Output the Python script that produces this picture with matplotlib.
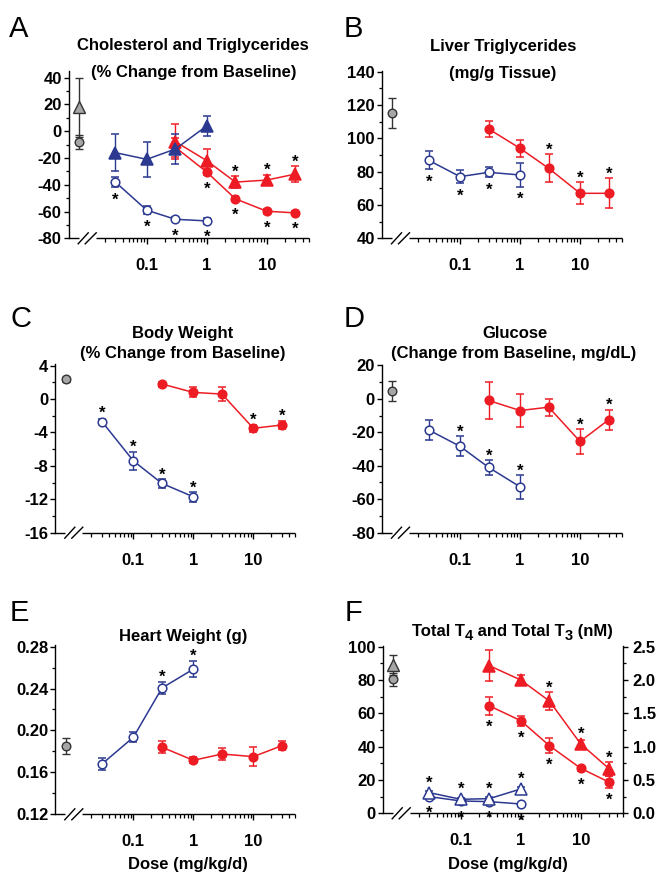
import matplotlib
matplotlib.use('Agg')
import matplotlib.pyplot as plt
from matplotlib.ticker import FixedLocator, NullFormatter, MultipleLocator, FormatStrFormatter

plt.rcParams['font.family'] = ['Liberation Sans', 'DejaVu Sans']
plt.rcParams['axes.unicode_minus'] = False

BLUE = '#2B3990'
RED = '#ED1C24'
GRAY = '#A6A6A6'
DARK = '#333333'

# ---------------- data ----------------
ctrl_dose = 0.0074
dose_blue = [0.03, 0.1, 0.3, 1]
dose_red = [0.3, 1, 3, 10, 30]
x_major = [0.1, 1, 10]
x_major_labels = ['0.1', '1', '10']

# A: cholesterol (circles) and triglycerides (triangles), % change
A_ctrl_chol, A_ctrl_chol_err = -8, 5
A_ctrl_tg, A_ctrl_tg_err = 18, 22
A_blue_chol = [-38, -59, -65.8, -67]
A_blue_chol_err = [4, 3, 1.5, 2]
A_blue_tg = [-16, -21, -13.3, 4]
A_blue_tg_err = [14, 13, 11, 7.5]
A_red_chol = [-12, -30.5, -50.5, -59.8, -61]
A_red_chol_err = [7, 2, 2, 2, 1.5]
A_red_tg = [-7.8, -22, -38, -36.5, -32]
A_red_tg_err = [13, 9, 4.5, 4, 6]
A_blue_chol_stars = [0.03, 0.1, 0.3, 1]
A_red_chol_stars = [1, 3, 10, 30]
A_red_tg_stars = [3, 10, 30]

# B: liver triglycerides (mg/g)
B_ctrl, B_ctrl_err = 115, 9
B_blue = [86.8, 77, 79.6, 78]
B_blue_err = [5.5, 4, 3, 7]
B_red = [105.6, 94, 82, 67, 67]
B_red_err = [5, 5, 8.5, 6.5, 9]
B_blue_stars = [0.03, 0.1, 0.3, 1]
B_red_stars = [3, 10, 30]

# C: body weight % change
C_ctrl, C_ctrl_err = 2.4, 0.3
C_blue = [-2.7, -7.4, -10.1, -11.7]
C_blue_err = [0.3, 1.1, 0.5, 0.6]
C_red = [1.8, 0.8, 0.6, -3.5, -3.1]
C_red_err = [0.3, 0.6, 0.8, 0.4, 0.5]
C_blue_stars = [0.03, 0.1, 0.3, 1]
C_red_stars = [10, 30]

# D: glucose change (mg/dL)
D_ctrl, D_ctrl_err = 4.5, 6
D_blue = [-18.6, -28.4, -41, -52.6]
D_blue_err = [6, 6, 4.5, 7]
D_red = [-1, -7, -5, -25.5, -12.5]
D_red_err = [11, 10, 5, 7.5, 6]
D_blue_stars = [0.1, 0.3, 1]
D_red_stars = [10, 30]

# E: heart weight (g)
E_ctrl, E_ctrl_err = 0.185, 0.0075
E_blue = [0.168, 0.1935, 0.2405, 0.2585]
E_blue_err = [0.006, 0.005, 0.006, 0.008]
E_red = [0.184, 0.1715, 0.1775, 0.175, 0.1855]
E_red_err = [0.006, 0.003, 0.006, 0.009, 0.004]
E_blue_stars = [0.3, 1]

# F: total T4 (circles, left axis) and total T3 (triangles, right axis), nM
F_ctrl_t4, F_ctrl_t4_err = 80.5, 4
F_ctrl_t3, F_ctrl_t3_err = 2.22, 0.15
F_blue_t4 = [10, 7.4, 7, 5.6]
F_blue_t4_err = [1, 0.8, 0.8, 0.6]
F_blue_t3 = [0.31, 0.21, 0.22, 0.365]
F_blue_t3_err = [0.03, 0.02, 0.02, 0.03]
F_red_t4 = [64.5, 55.6, 40.6, 27, 18.6]
F_red_t4_err = [5.5, 3, 4.5, 1.5, 3.5]
F_red_t3 = [2.215, 2.0, 1.685, 1.04, 0.665]
F_red_t3_err = [0.23, 0.075, 0.135, 0.0625, 0.1]
F_blue_t4_stars = [0.03, 0.1, 0.3, 1]
F_blue_t3_stars = [0.03, 0.1, 0.3, 1]
F_red_t4_stars = [0.3, 1, 3, 10, 30]
F_red_t3_stars = [3, 10, 30]

# ---------------- layout ----------------
W, H = 660, 873
fig = plt.figure(figsize=(W / 100, H / 100), dpi=100)
PT = 72 / 100  # points per pixel


def make_ax(left, right, top, bottom):
    return fig.add_axes([left / W, 1 - bottom / H, (right - left) / W, (bottom - top) / H])


TICK_FS = 12
TITLE_FS = 12
MS_C = 6.2
MS_T = 8.0


def style(ax, ylim, major, minor, fmt=None):
    ax.set_xscale('log')
    ax.set_xlim(0.005, 50)
    ax.set_ylim(*ylim)
    for s in ['top', 'right', 'bottom']:
        ax.spines[s].set_visible(False)
    ax.spines['left'].set_linewidth(1.0)
    ax.xaxis.set_major_locator(FixedLocator(x_major))
    ax.set_xticklabels(x_major_labels)
    mins = [m * d for d in (0.01, 0.1, 1) for m in range(2, 10)] + [20, 30, 40, 50]
    mins = [v for v in mins if v >= 0.02]
    ax.xaxis.set_minor_locator(FixedLocator(mins))
    ax.xaxis.set_minor_formatter(NullFormatter())
    ax.tick_params(axis='x', which='major', length=6 * PT, width=1.0, pad=14 * PT, labelsize=TICK_FS)
    ax.tick_params(axis='x', which='minor', length=3.5 * PT, width=0.9)
    ax.yaxis.set_major_locator(MultipleLocator(major))
    ax.yaxis.set_minor_locator(MultipleLocator(minor))
    if fmt:
        ax.yaxis.set_major_formatter(FormatStrFormatter(fmt))
    ax.tick_params(axis='y', which='major', length=5 * PT, width=1.0, pad=2 * PT, labelsize=TICK_FS)
    ax.tick_params(axis='y', which='minor', length=3 * PT, width=0.9)
    for lab in ax.get_xticklabels() + ax.get_yticklabels():
        lab.set_fontweight('bold')
    # broken bottom axis
    hpx = ax.get_position().height * H
    wpx = ax.get_position().width * W
    kw = dict(transform=ax.transAxes, color='black', lw=1.0, clip_on=False, solid_capstyle='butt')
    ax.plot([0, 10 / wpx], [0, 0], **kw)
    ax.plot([27 / wpx, 1], [0, 0], **kw)
    dy = 6 / hpx
    ax.plot([9 / wpx, 20 / wpx], [-dy, dy], **kw)
    ax.plot([16 / wpx, 28 / wpx], [-dy, dy], **kw)


def series(ax, x, y, err, color, marker, filled):
    ms = MS_C if marker == 'o' else MS_T
    ax.errorbar(x, y, yerr=err, fmt='-' + marker, color=color, lw=1.1,
                ms=ms, mfc=color if filled else 'white', mec=color, mew=1.1,
                ecolor=color, elinewidth=1.0, capsize=2.6, capthick=1.0, zorder=3)


def control(ax, y, err, marker):
    ms = MS_C if marker == 'o' else MS_T
    ax.errorbar([ctrl_dose], [y], yerr=[err], fmt=marker, color=DARK, ms=ms,
                mfc=GRAY, mec=DARK, mew=1.0, ecolor=DARK, elinewidth=1.0,
                capsize=2.6, capthick=1.0, zorder=3)


def stars(ax, x, y, err, which, direction, marker):
    r = (MS_C if marker == 'o' else MS_T) * 100 / 72 / 2
    inv = ax.transData.inverted()
    for xi, yi, ei in zip(x, y, err):
        if xi not in which:
            continue
        px, py = ax.transData.transform((xi, yi))
        _, pe = ax.transData.transform((xi, yi + ei))
        e = abs(pe - py)
        if direction > 0:
            c = py + max(e, r) + 7.5
        else:
            c = py - max(e, r) - 9
        base = c - 8.0
        _, yb = inv.transform((px, base))
        ax.text(xi, yb, '*', ha='center', va='baseline', fontsize=12,
                fontweight='bold', color='black', zorder=4)


def ftext(x, y, s, **kw):
    return fig.text(x / W, 1 - y / H, s, **kw)


# ---------------- panel A ----------------
axA = make_ax(68.7, 308.7, 71, 238.3)
style(axA, (-80, 45), 20, 10)
control(axA, A_ctrl_tg, A_ctrl_tg_err, '^')
control(axA, A_ctrl_chol, A_ctrl_chol_err, 'o')
series(axA, dose_red, A_red_chol, A_red_chol_err, RED, 'o', True)
series(axA, dose_red, A_red_tg, A_red_tg_err, RED, '^', True)
series(axA, dose_blue, A_blue_chol, A_blue_chol_err, BLUE, 'o', False)
series(axA, dose_blue, A_blue_tg, A_blue_tg_err, BLUE, '^', True)
stars(axA, dose_blue, A_blue_chol, A_blue_chol_err, A_blue_chol_stars, -1, 'o')
stars(axA, dose_red, A_red_chol, A_red_chol_err, A_red_chol_stars, -1, 'o')
stars(axA, dose_red, A_red_tg, A_red_tg_err, A_red_tg_stars, 1, '^')

# ---------------- panel B ----------------
axB = make_ax(382, 622, 71, 238.3)
style(axB, (40, 140.4), 20, 10)
control(axB, B_ctrl, B_ctrl_err, 'o')
series(axB, dose_red, B_red, B_red_err, RED, 'o', True)
series(axB, dose_blue, B_blue, B_blue_err, BLUE, 'o', False)
stars(axB, dose_blue, B_blue, B_blue_err, B_blue_stars, -1, 'o')
stars(axB, dose_red, B_red, B_red_err, B_red_stars, 1, 'o')

# ---------------- panel C ----------------
axC = make_ax(55.3, 295.3, 364, 532.7)
style(axC, (-16, 4.2), 4, 2)
control(axC, C_ctrl, C_ctrl_err, 'o')
series(axC, dose_red, C_red, C_red_err, RED, 'o', True)
series(axC, dose_blue, C_blue, C_blue_err, BLUE, 'o', False)
stars(axC, dose_blue, C_blue, C_blue_err, C_blue_stars, 1, 'o')
stars(axC, dose_red, C_red, C_red_err, C_red_stars, 1, 'o')

# ---------------- panel D ----------------
axD = make_ax(382, 622, 365, 532.7)
style(axD, (-80, 20.2), 20, 10)
control(axD, D_ctrl, D_ctrl_err, 'o')
series(axD, dose_red, D_red, D_red_err, RED, 'o', True)
series(axD, dose_blue, D_blue, D_blue_err, BLUE, 'o', False)
stars(axD, dose_blue, D_blue, D_blue_err, D_blue_stars, 1, 'o')
stars(axD, dose_red, D_red, D_red_err, D_red_stars, 1, 'o')

# ---------------- panel E ----------------
axE = make_ax(55.3, 295.3, 645, 814.3)
style(axE, (0.12, 0.2815), 0.04, 0.02, '%.2f')
control(axE, E_ctrl, E_ctrl_err, 'o')
series(axE, dose_red, E_red, E_red_err, RED, 'o', True)
series(axE, dose_blue, E_blue, E_blue_err, BLUE, 'o', False)
stars(axE, dose_blue, E_blue, E_blue_err, E_blue_stars, 1, 'o')

# ---------------- panel F ----------------
axF = make_ax(382.7, 622.7, 645.7, 813.3)
style(axF, (0, 100.6), 20, 10)
axF2 = axF.twinx()
axF2.set_ylim(0, 2.515)
for s in ['top', 'left', 'bottom']:
    axF2.spines[s].set_visible(False)
axF2.spines['right'].set_linewidth(1.0)
axF2.yaxis.set_major_locator(MultipleLocator(0.5))
axF2.yaxis.set_minor_locator(MultipleLocator(0.25))
axF2.yaxis.set_major_formatter(FormatStrFormatter('%.1f'))
axF2.tick_params(axis='y', which='major', length=5 * PT, width=1.0, pad=5 * PT, labelsize=TICK_FS)
axF2.tick_params(axis='y', which='minor', length=3 * PT, width=0.9)
for lab in axF2.get_yticklabels():
    lab.set_fontweight('bold')
control(axF, F_ctrl_t4, F_ctrl_t4_err, 'o')
control(axF2, F_ctrl_t3, F_ctrl_t3_err, '^')
series(axF, dose_red, F_red_t4, F_red_t4_err, RED, 'o', True)
series(axF, dose_blue, F_blue_t4, F_blue_t4_err, BLUE, 'o', False)
series(axF2, dose_red, F_red_t3, F_red_t3_err, RED, '^', True)
series(axF2, dose_blue, F_blue_t3, F_blue_t3_err, BLUE, '^', False)
stars(axF, dose_blue, F_blue_t4, F_blue_t4_err, F_blue_t4_stars, -1, 'o')
stars(axF, dose_red, F_red_t4, F_red_t4_err, F_red_t4_stars, -1, 'o')
stars(axF2, dose_blue, F_blue_t3, F_blue_t3_err, F_blue_t3_stars, 1, '^')
stars(axF2, dose_red, F_red_t3, F_red_t3_err, F_red_t3_stars, 1, '^')

# ---------------- texts ----------------
tkw = dict(ha='center', va='center', fontsize=TITLE_FS, fontweight='bold')
ftext(193.3, 45.7, 'Cholesterol and Triglycerides', **tkw)
ftext(193.3, 72.3, '(% Change from Baseline)', **tkw)
ftext(503, 46.7, 'Liver Triglycerides', **tkw)
ftext(502.5, 73.3, '(mg/g Tissue)', **tkw)
ftext(183, 333.3, 'Body Weight', **tkw)
ftext(182.5, 353.3, '(% Change from Baseline)', **tkw)
ftext(514.7, 333.3, 'Glucose', **tkw)
ftext(513.3, 353.3, '(Change from Baseline, mg/dL)', **tkw)
ftext(183, 636.7, 'Heart Weight (g)', **tkw)
ftext(188, 865, 'Dose (mg/kg/d)', **tkw)
ftext(508, 865, 'Dose (mg/kg/d)', **tkw)

# F title with enlarged subscripts, assembled piece by piece
renderer = fig.canvas.get_renderer()
pieces = [('Total T', 0, TITLE_FS), ('4', 4.5, 10.5), (' and Total T', 0, TITLE_FS),
          ('3', 4.5, 10.5), (' (nM)', 0, TITLE_FS)]
objs = []
for s, dy, fs in pieces:
    t = ftext(0, 636 + dy, s, ha='left', va='baseline', fontsize=fs, fontweight='bold')
    objs.append((t, dy))
widths = [t.get_window_extent(renderer).width for t, _ in objs]
x0 = 512.5 - sum(widths) / 2
for (t, dy), w in zip(objs, widths):
    t.set_x(x0 / W)
    x0 += w

lkw = dict(ha='left', va='baseline', fontsize=21)
ftext(9, 37, 'A', **lkw)
ftext(344, 37, 'B', **lkw)
ftext(10, 327, 'C', **lkw)
ftext(344, 327, 'D', **lkw)
ftext(10, 621, 'E', **lkw)
ftext(345, 621, 'F', **lkw)

fig.savefig('out.png', dpi=100)
